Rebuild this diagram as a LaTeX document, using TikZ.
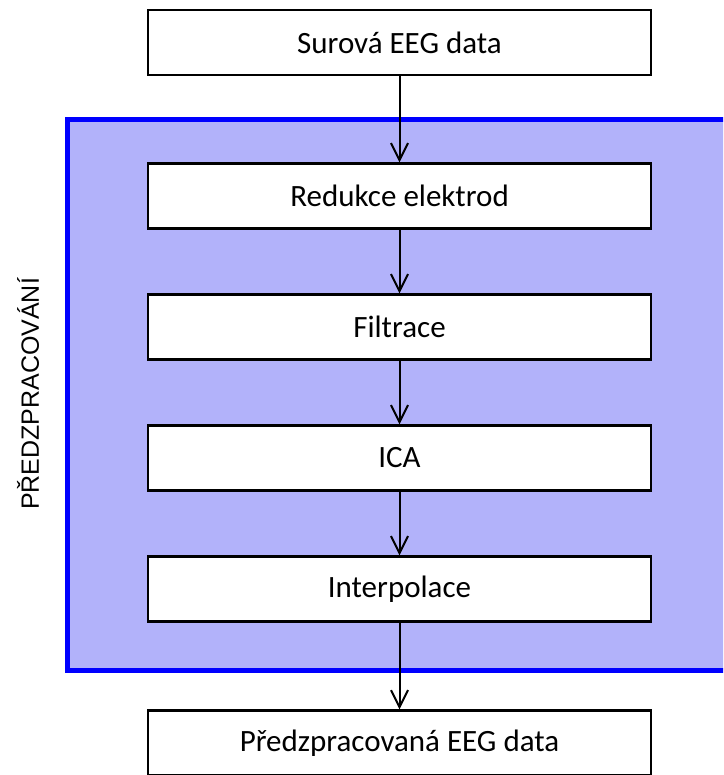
\documentclass[tikz,border=0pt]{standalone}
\usepackage{fontspec}
\setmainfont{Carlito}
\newfontfamily\labelfont{Liberation Sans}
\usetikzlibrary{arrows.meta}
\definecolor{panelfill}{RGB}{178,178,250}
\definecolor{panelline}{RGB}{0,0,255}
\tikzset{
  stepbox/.style={draw=black, line width=2.3pt, fill=white, minimum width=503pt, minimum height=65pt, inner sep=0pt, font=\fontsize{31}{36}\selectfont},
  flow/.style={line width=2pt, -{Straight Barb[length=17pt, width=17pt, line width=2pt]}},
}
\begin{document}
\begin{tikzpicture}[x=1pt, y=1pt]
\clip (0,0) rectangle (723,-775);
\fill[white] (0,0) rectangle (723,-775);
\draw[line width=5pt, draw=panelline, fill=panelfill] (67,-120) rectangle (760,-670);
\node[rotate=90, font=\labelfont\fontsize{25}{30}\selectfont] (lbl) at (28,-394) {PŘEDZPRACOVÁNÍ};
\node[stepbox] (raw) at (399.5,-42.5) {Surová EEG data};
\node[stepbox] (red) at (399.5,-196) {Redukce elektrod};
\node[stepbox] (fil) at (399.5,-327) {Filtrace};
\node[stepbox] (ica) at (399.5,-458) {ICA};
\node[stepbox] (int) at (399.5,-589) {Interpolace};
\node[stepbox] (out) at (399.5,-743) {Předzpracovaná EEG data};
\draw[flow] (raw) -- (red);
\draw[flow] (red) -- (fil);
\draw[flow] (fil) -- (ica);
\draw[flow] (ica) -- (int);
\draw[flow] (int) -- (out);
\end{tikzpicture}
\end{document}
